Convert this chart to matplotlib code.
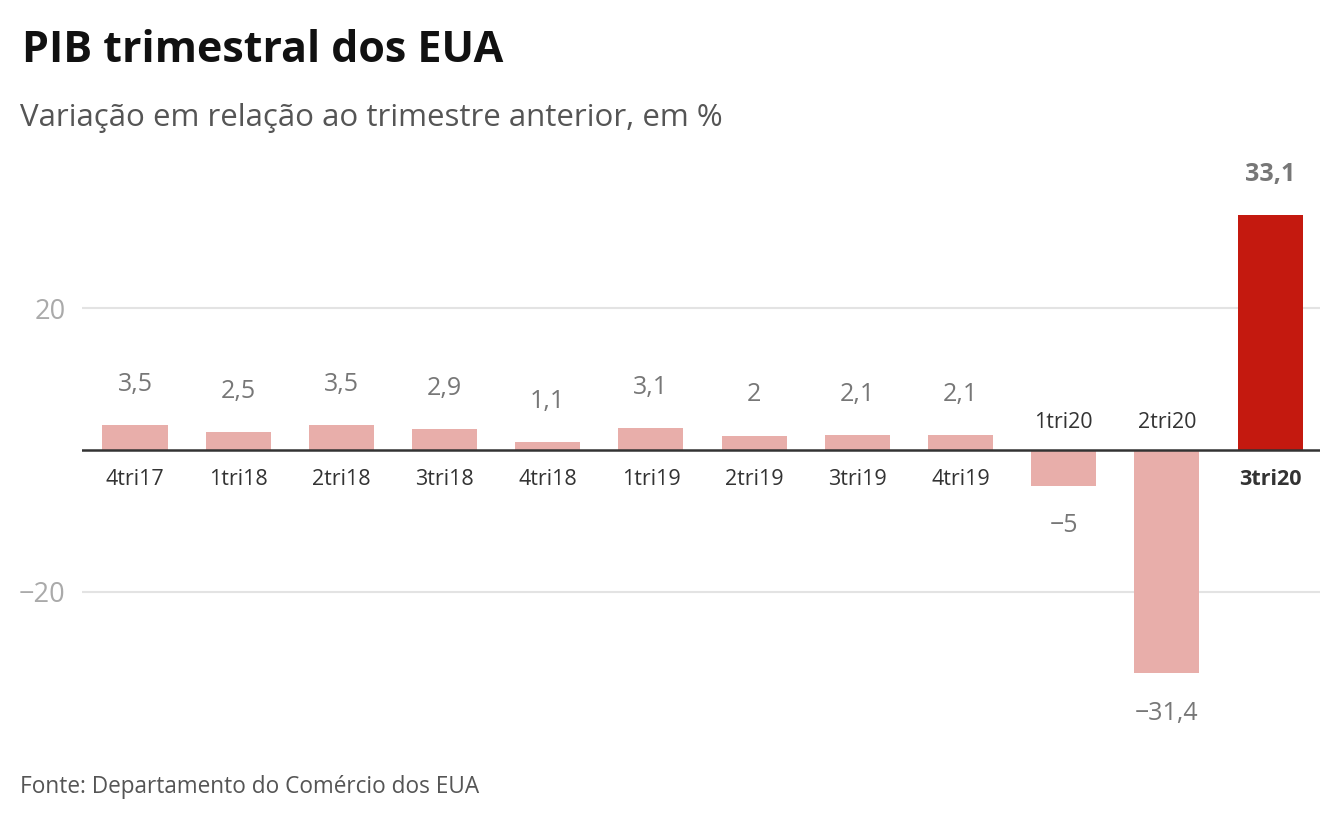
import matplotlib
matplotlib.use("Agg")
import matplotlib.pyplot as plt

plt.rcParams['font.family'] = ['Open Sans', 'Noto Sans', 'DejaVu Sans']

quarters = ["4tri17", "1tri18", "2tri18", "3tri18", "4tri18", "1tri19",
            "2tri19", "3tri19", "4tri19", "1tri20", "2tri20", "3tri20"]
values = [3.5, 2.5, 3.5, 2.9, 1.1, 3.1, 2.0, 2.1, 2.1, -5.0, -31.4, 33.1]
value_labels = ["3,5", "2,5", "3,5", "2,9", "1,1", "3,1", "2", "2,1", "2,1",
                "\u22125", "\u221231,4", "33,1"]
yticks = [-20, 20]
ytick_labels = ["\u221220", "20"]

PINK = "#e8aeaa"
RED = "#c4190f"

W, H = 1340, 840
fig = plt.figure(figsize=(W / 100, H / 100), dpi=100)

# axes placed in pixel terms: x 82..1320, y 150..760 (from top)
ax = fig.add_axes([82 / W, 1 - 760 / H, (1320 - 82) / W, (760 - 150) / H])
ax.set_xlim(-0.5136, 11.483)
ax.set_ylim(-(760 - 450) / 7.1, (450 - 150) / 7.1)

x = list(range(len(quarters)))
colors = [PINK] * (len(values) - 1) + [RED]
ax.bar(x, values, width=0.63, color=colors, zorder=2)

for yv in yticks:
    ax.axhline(yv, color="#e3e3e3", lw=1.5, zorder=1)
ax.axhline(0, color="#333333", lw=1.8, zorder=3)

ax.set_yticks(yticks)
ax.set_yticklabels(ytick_labels)
ax.tick_params(axis='y', length=0, labelsize=19.5, labelcolor="#aaaaaa", pad=12)
ax.set_xticks([])
for s in ax.spines.values():
    s.set_visible(False)

last = len(values) - 1
for i, (v, q, lab) in enumerate(zip(values, quarters, value_labels)):
    bold = i == last
    if v >= 0:
        ax.annotate(lab, (i, v), xytext=(0, 29.5), textcoords="offset points",
                    ha="center", va="center", fontsize=18, color="#777777",
                    fontweight="bold" if bold else "normal")
        ax.annotate(q, (i, 0), xytext=(0, -21), textcoords="offset points",
                    ha="center", va="center", fontsize=15.5, color="#333333",
                    fontweight="bold" if bold else "normal")
    else:
        ax.annotate(lab, (i, v), xytext=(0, -29), textcoords="offset points",
                    ha="center", va="center", fontsize=18, color="#777777")
        ax.annotate(q, (i, 0), xytext=(0, 19.5), textcoords="offset points",
                    ha="center", va="center", fontsize=15.5, color="#333333")

fig.text(22 / W, 1 - 50 / H, "PIB trimestral dos EUA", fontsize=31,
         fontweight="bold", color="#111111", ha="left", va="center")
fig.text(20 / W, 1 - 118 / H, "Variação em relação ao trimestre anterior, em %",
         fontsize=22.5, color="#555555", ha="left", va="center")
fig.text(20 / W, 1 - 787 / H, "Fonte: Departamento do Comércio dos EUA",
         fontsize=16.3, color="#555555", ha="left", va="center")

fig.savefig("out.png", dpi=100)
